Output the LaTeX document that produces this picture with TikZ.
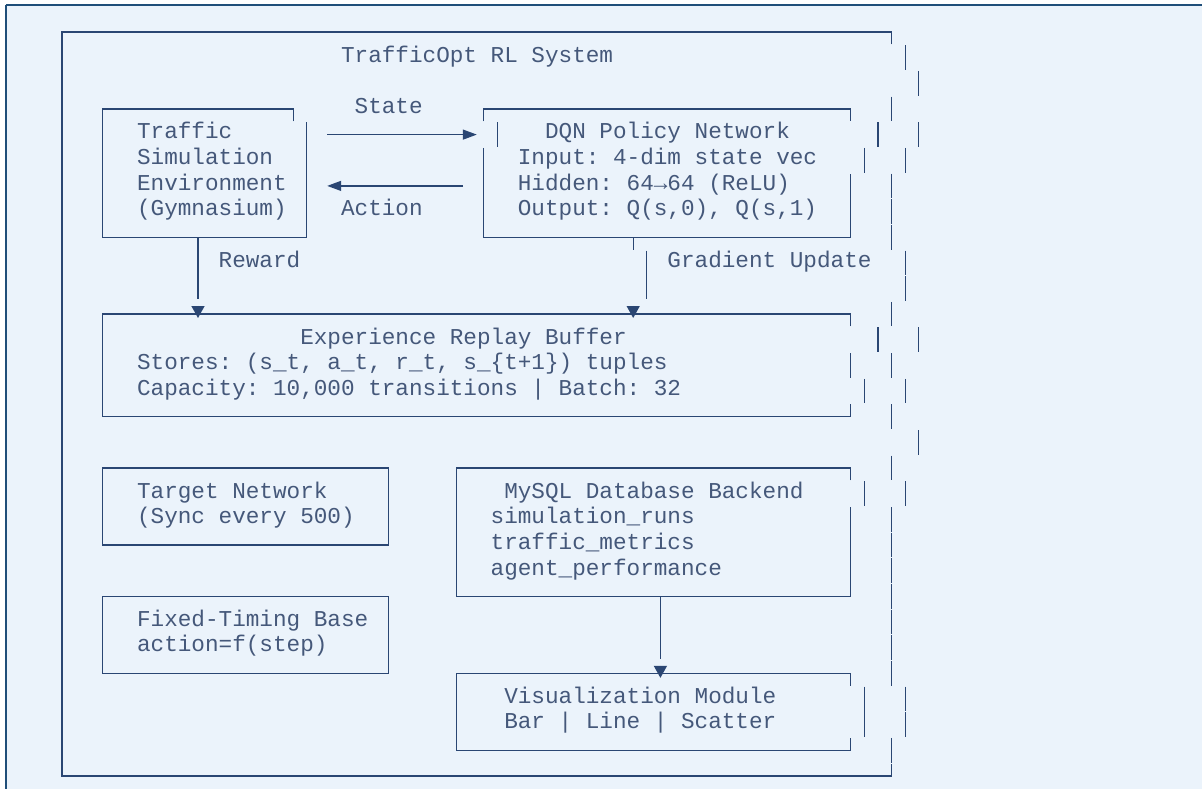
\documentclass[tikz,border=0pt]{standalone}
\usepackage{fontspec}
\newfontfamily\asciimono{Liberation Mono}
\usetikzlibrary{arrows.meta, calc}
\definecolor{panelbg}{HTML}{EBF3FB}
\definecolor{paneledge}{HTML}{1F4E79}
\definecolor{boxline}{HTML}{2A4673}
\definecolor{boxtext}{HTML}{45587A}

\begin{document}
\begin{tikzpicture}[x=10.2pt, y=-19.2375pt,
    txt/.style={anchor=base west, inner sep=0pt, text=boxtext,
      font=\asciimono\fontsize{17}{19}\selectfont\frenchspacing},
    rule/.style={boxline, line width=1pt},
    flow/.style={rule, -{Triangle[length=10.5pt, width=7.5pt]}},
    drop/.style={rule, -{Triangle[length=9pt, width=9.75pt]}}]

\useasboundingbox (-4.5588,-1.2476) rectangle (83.8235,29.5127);

% panel
\fill[panelbg] (-4.12,-1.05) rectangle (83.8235,29.5127);
\draw[paneledge, line width=1.5pt] (-4.12,-1.05) -- (83.8235,-1.05);
\draw[paneledge, line width=1.1pt] (-4.12,-1.05) -- (-4.12,29.5127);

% system frame
\draw[rule] (61,0.48) -- (61,0) -- (0,0) -- (0,29) -- (61,29) -- (61,28.52);
\foreach \c/\r in {62/1, 63/2, 61/3, 63/4, 62/5, 61/6, 61/7, 61/8, 62/9, 62/10,
    61/11, 63/12, 61/13, 62/14, 61/15, 63/16, 61/17, 62/18, 61/19, 61/20,
    61/21, 61/22, 61/23, 61/24, 61/25, 62/26, 62/27, 61/28}
  \draw[rule] (\c,\r-0.48) -- (\c,\r+0.48);
\node[txt] (title) at (20.5,1.17) {TrafficOpt RL System};

% environment
\draw[rule] (17,3.48) -- (17,3) -- (3,3) -- (3,8) -- (18,8) -- (18,3.52);
\foreach \t [count=\i from 4] in {Traffic, Simulation, Environment, (Gymnasium)}
  \node[txt] (sim\i) at (5.5,\i+0.17) {\t};

% policy network
\draw[rule] (31,3.48) -- (31,3) -- (58,3) -- (58,3.48);
\draw[rule] (31,4.52) -- (31,8) -- (58,8) -- (58,5.52);
\draw[rule] (32,3.52) -- (32,4.48);
\draw[rule] (60,3.52) -- (60,4.48);
\draw[rule] (59,4.52) -- (59,5.48);
\node[txt] (dqn4) at (35.5,4.17) {DQN Policy Network};
\node[txt] (dqn5) at (33.5,5.17) {Input: 4-dim state vec};
\node[txt] (dqn6) at (33.5,6.17) {Hidden: 64→64 (ReLU)};
\node[txt] (dqn7) at (33.5,7.17) {Output: Q(s,0), Q(s,1)};

% state / action
\coordinate (stateA) at (19.5,4);
\coordinate (stateB) at (30.5,4);
\coordinate (actA) at (29.5,6);
\coordinate (actB) at (19.5,6);
\draw[flow] (stateA) -- (stateB);
\draw[flow] (actA) -- (actB);
\node[txt] (statelbl) at (21.5,3.17) {State};
\node[txt] (actlbl) at (20.5,7.17) {Action};

% replay buffer
\draw[rule] (58,11.48) -- (58,11) -- (3,11) -- (3,15) -- (58,15) -- (58,14.52);
\draw[rule] (60,11.52) -- (60,12.48);
\draw[rule] (58,12.52) -- (58,13.48);
\draw[rule] (59,13.52) -- (59,14.48);
\node[txt] (rep12) at (17.5,12.17) {Experience Replay Buffer};
\node[txt] (rep13) at (5.5,13.17) {Stores: (s\_t, a\_t, r\_t, s\_\{t+1\}) tuples};
\node[txt] (rep14) at (5.5,14.17) {Capacity: 10,000 transitions | Batch: 32};

% reward / gradient
\coordinate (rewA) at (10,8);
\coordinate (rewM) at (10,10.4);
\coordinate (rewB) at (10,11.15);
\draw[rule] (rewA) -- (rewM);
\draw[drop] ($(rewB)+(0,-0.47)$) -- (rewB);
\node[txt] (rewlbl) at (11.5,9.17) {Reward};
\coordinate (gradA) at (42,8);
\coordinate (gradB) at (42,11.15);
\draw[rule] (gradA) -- ++(0,0.48);
\draw[rule] (43,8.52) -- (43,10.4);
\draw[drop] ($(gradB)+(0,-0.47)$) -- (gradB);
\node[txt] (gradlbl) at (44.5,9.17) {Gradient Update};

% target / baseline
\draw[rule] (3,17) rectangle (24,20);
\node[txt] (tgt18) at (5.5,18.17) {Target Network};
\node[txt] (tgt19) at (5.5,19.17) {(Sync every 500)};
\draw[rule] (3,22) rectangle (24,25);
\node[txt] (fix23) at (5.5,23.17) {Fixed-Timing Base};
\node[txt] (fix24) at (5.5,24.17) {action=f(step)};

% database
\draw[rule] (58,17.48) -- (58,17) -- (29,17) -- (29,22) -- (58,22) -- (58,18.52);
\draw[rule] (59,17.52) -- (59,18.48);
\node[txt] (db18) at (32.5,18.17) {MySQL Database Backend};
\node[txt] (db19) at (31.5,19.17) {simulation\_runs};
\node[txt] (db20) at (31.5,20.17) {traffic\_metrics};
\node[txt] (db21) at (31.5,21.17) {agent\_performance};

% visualization
\draw[rule] (58,25.48) -- (58,25) -- (29,25) -- (29,28) -- (58,28) -- (58,27.52);
\draw[rule] (59,25.52) -- (59,27.48);
\node[txt] (viz26) at (32.5,26.17) {Visualization Module};
\node[txt] (viz27) at (32.5,27.17) {Bar | Line | Scatter};
\coordinate (vizA) at (44,22);
\coordinate (vizM) at (44,24.45);
\coordinate (vizB) at (44,25.18);
\draw[rule] (vizA) -- (vizM);
\draw[drop] ($(vizB)+(0,-0.47)$) -- (vizB);
\end{tikzpicture}
\end{document}
